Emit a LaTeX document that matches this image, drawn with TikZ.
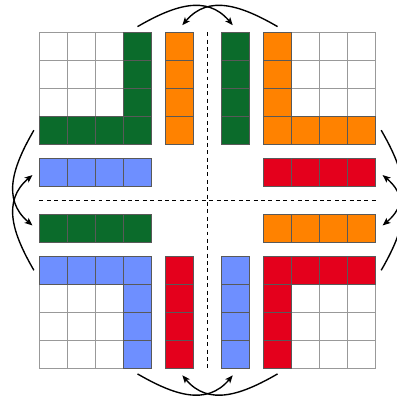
\documentclass[tikz,border=0pt]{standalone}
\usetikzlibrary{calc, arrows.meta}

\definecolor{pgreen}{RGB}{11,107,43}
\definecolor{porange}{RGB}{255,130,0}
\definecolor{pblue}{RGB}{110,143,255}
\definecolor{pred}{RGB}{228,0,28}

\begin{document}
\begin{tikzpicture}[>={Stealth[length=8pt,width=6.5pt,inset=2pt]}, x=1cm, y=1cm,
  cell/.style={draw=gray!80, line width=0.8pt, fill=white},
  tile/.style={draw=black!65, line width=0.8pt},
  gtile/.style={tile, fill=pgreen},
  otile/.style={tile, fill=porange},
  btile/.style={tile, fill=pblue},
  rtile/.style={tile, fill=pred},
  sep/.style={dash pattern=on 4pt off 3.5pt, line width=1.4pt},
  swap/.style={->, line width=1.4pt, looseness=1.1}]

\useasboundingbox (-7.41,-7.06) rectangle (6.73,7.15);

% --- Empty 4x4 grids ---
\foreach \bx/\by in {-6/2, 2/2, -6/-6, 2/-6} {
    \foreach \i in {0,...,3} {
        \foreach \j in {0,...,3} {
            \draw[cell] (\bx+\i,\by+\j) rectangle ++(1,1);
        }
    }
}

% --- Coloured tiles ---
\foreach \k in {0,...,3} {
    % Blocks (L shapes)
    \draw[gtile] (-3,2+\k) rectangle ++(1,1);
    \draw[gtile] (-6+\k,2) rectangle ++(1,1);
    \draw[otile] (2,2+\k) rectangle ++(1,1);
    \draw[otile] (2+\k,2) rectangle ++(1,1);
    \draw[btile] (-6+\k,-3) rectangle ++(1,1);
    \draw[btile] (-3,-6+\k) rectangle ++(1,1);
    \draw[rtile] (2+\k,-3) rectangle ++(1,1);
    \draw[rtile] (2,-6+\k) rectangle ++(1,1);

    % Loose strips
    \draw[otile] (-1.5,2+\k) rectangle ++(1,1);
    \draw[gtile] (0.5,2+\k) rectangle ++(1,1);
    \draw[btile] (-6+\k,0.5) rectangle ++(1,1);
    \draw[rtile] (2+\k,0.5) rectangle ++(1,1);
    \draw[gtile] (-6+\k,-1.5) rectangle ++(1,1);
    \draw[otile] (2+\k,-1.5) rectangle ++(1,1);
    \draw[rtile] (-1.5,-6+\k) rectangle ++(1,1);
    \draw[btile] (0.5,-6+\k) rectangle ++(1,1);
}

% --- Separators ---
\draw[sep] (0,6) -- (0,-6);
\draw[sep] (-6,0) -- (6,0);

% --- Swap arrows ---
\coordinate (topL)   at (-2.5,6.2);   \coordinate (topLend)   at (0.9,6.25);
\coordinate (topR)   at (2.5,6.2);    \coordinate (topRend)   at (-0.9,6.25);
\coordinate (leftB)  at (-6.2,-2.5);  \coordinate (leftBend)  at (-6.25,0.9);
\coordinate (leftT)  at (-6.2,2.5);   \coordinate (leftTend)  at (-6.25,-0.9);
\coordinate (botR)   at (2.5,-6.2);   \coordinate (botRend)   at (-0.9,-6.25);
\coordinate (botL)   at (-2.5,-6.2);  \coordinate (botLend)   at (0.9,-6.25);
\coordinate (rightT) at (6.2,2.5);    \coordinate (rightTend) at (6.25,-0.9);
\coordinate (rightB) at (6.2,-2.5);   \coordinate (rightBend) at (6.25,0.9);

\draw[swap] (topL) to[out=30,in=130] (topLend);
\draw[swap] (topR) to[out=150,in=50] (topRend);
\draw[swap] (leftB) to[out=120,in=220] (leftBend);
\draw[swap] (leftT) to[out=240,in=140] (leftTend);
\draw[swap] (botR) to[out=210,in=310] (botRend);
\draw[swap] (botL) to[out=330,in=230] (botLend);
\draw[swap] (rightT) to[out=300,in=40] (rightTend);
\draw[swap] (rightB) to[out=60,in=320] (rightBend);

\end{tikzpicture}
\end{document}
